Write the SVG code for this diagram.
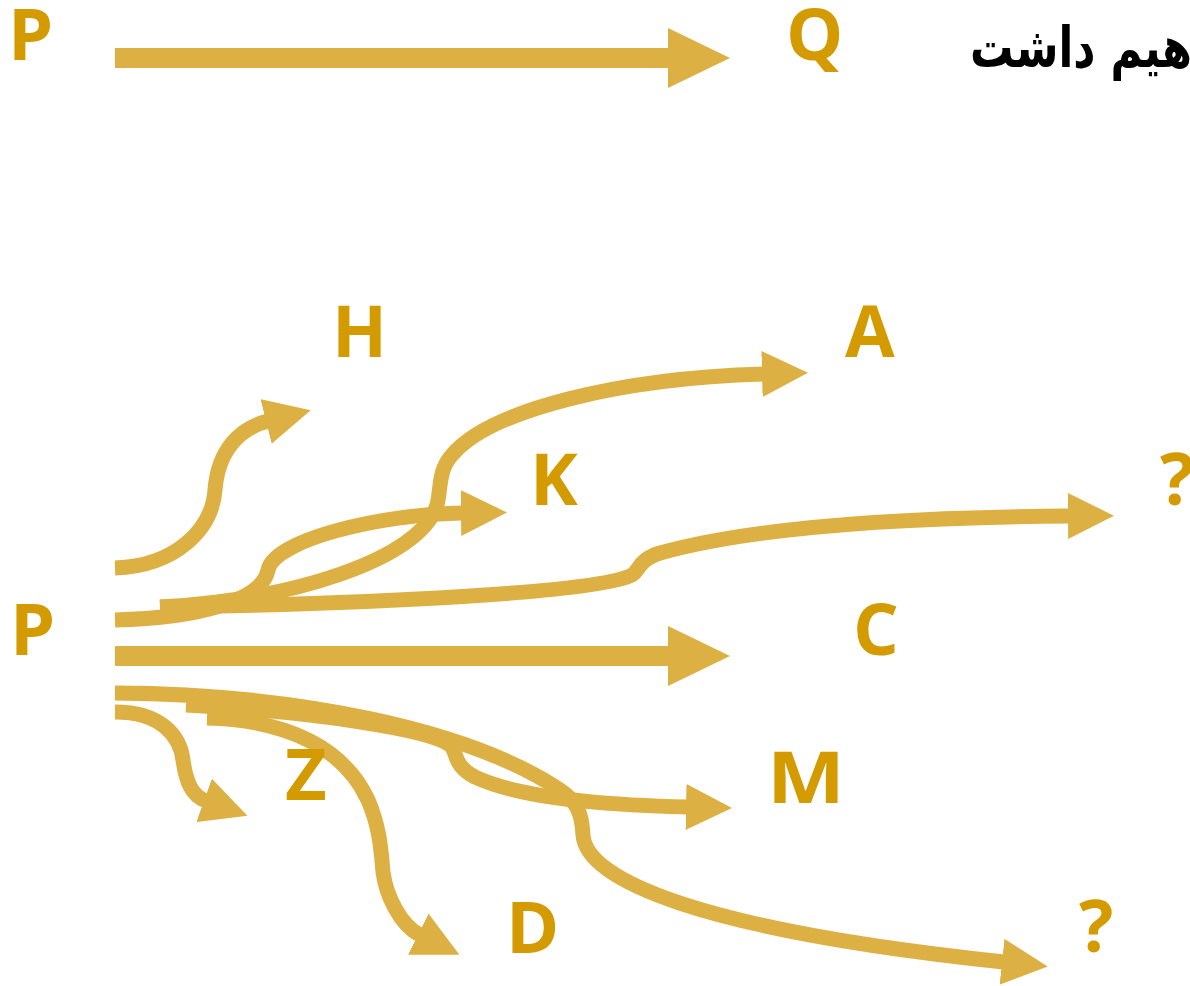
<svg xmlns="http://www.w3.org/2000/svg" width="1190" height="986" viewBox="0 0 1190 986">
<style>
.lbl{font-family:"Open Sans","Liberation Sans",sans-serif;font-weight:bold;font-size:72px;fill:#D39B00}
.fa{font-family:"DejaVu Sans",sans-serif;font-weight:bold;font-size:47px;fill:#000}
.s{fill:none;stroke:#DDB043;stroke-width:20}
.c{fill:none;stroke:#DDB043;stroke-width:15;stroke-linecap:butt}
</style>
<defs>
<marker id="big" markerUnits="userSpaceOnUse" markerWidth="62" markerHeight="60" viewBox="0 0 62 60" refX="1" refY="30" orient="auto"><path d="M0,0 L62,30 L0,60 Z" fill="#DDB043"/></marker>
<marker id="sm" markerUnits="userSpaceOnUse" markerWidth="46" markerHeight="46" viewBox="0 0 46 46" refX="2" refY="23" orient="auto"><path d="M0,0 L46,23 L0,46 Z" fill="#DDB043"/></marker>
</defs>
<g id="connectors">
<path class="s" d="M115,58 H669" marker-end="url(#big)"/>
<path class="s" d="M115,656 H669" marker-end="url(#big)"/>
<path class="c" d="M115,568 C175,566 212,530 215,490 C218,450 240,428 268,421" marker-end="url(#sm)"/>
<path class="c" d="M115,620 C200,618 262,600 268,570 C274,540 380,514 463,513" marker-end="url(#sm)"/>
<path class="c" d="M160,607 C290,600 420,560 437,505 C441,490 438,470 452,455 C490,410 620,378 764,374" marker-end="url(#sm)"/>
<path class="c" d="M160,607 C380,604 600,592 632,575 C640,570 638,560 660,553 C760,525 930,517 1070,516" marker-end="url(#sm)"/>
<path class="c" d="M115,693 C300,694 470,730 560,790 C578,802 582,815 583,835 C586,880 700,930 1004,962" marker-end="url(#sm)"/>
<path class="c" d="M186,705 C320,712 430,730 450,745 C458,752 452,765 475,777 C520,798 600,805 688,807" marker-end="url(#sm)"/>
<path class="c" d="M115,712 C160,712 180,735 183,760 C186,782 192,796 206,801" marker-end="url(#sm)"/>
<path class="c" d="M207,718 C290,720 345,750 368,800 C380,828 381,850 383,872 C386,895 400,925 420,935" marker-end="url(#sm)"/>
</g>
<g id="node-P-top"><text class="lbl" x="8" y="60">P</text></g>
<g id="node-Q"><text class="lbl" x="786" y="60">Q</text></g>
<g id="title"><text class="fa" transform="translate(1192,67) scale(0.92,1.2)" text-anchor="end">هیم داشت</text></g>
<g id="node-H"><text class="lbl" x="332" y="357">H</text></g>
<g id="node-A"><text class="lbl" x="845" y="357">A</text></g>
<g id="node-K"><text class="lbl" x="530" y="505">K</text></g>
<g id="node-Q1"><text class="lbl" x="1160" y="505">?</text></g>
<g id="node-P"><text class="lbl" x="10" y="655">P</text></g>
<g id="node-C"><text class="lbl" x="853" y="655">C</text></g>
<g id="node-M"><text class="lbl" x="767" y="803" textLength="78" lengthAdjust="spacingAndGlyphs">M</text></g>
<g id="node-Z"><text class="lbl" x="285" y="800">Z</text></g>
<g id="node-D"><text class="lbl" x="506" y="953">D</text></g>
<g id="node-Q2"><text class="lbl" x="1079" y="952">?</text></g>
</svg>
